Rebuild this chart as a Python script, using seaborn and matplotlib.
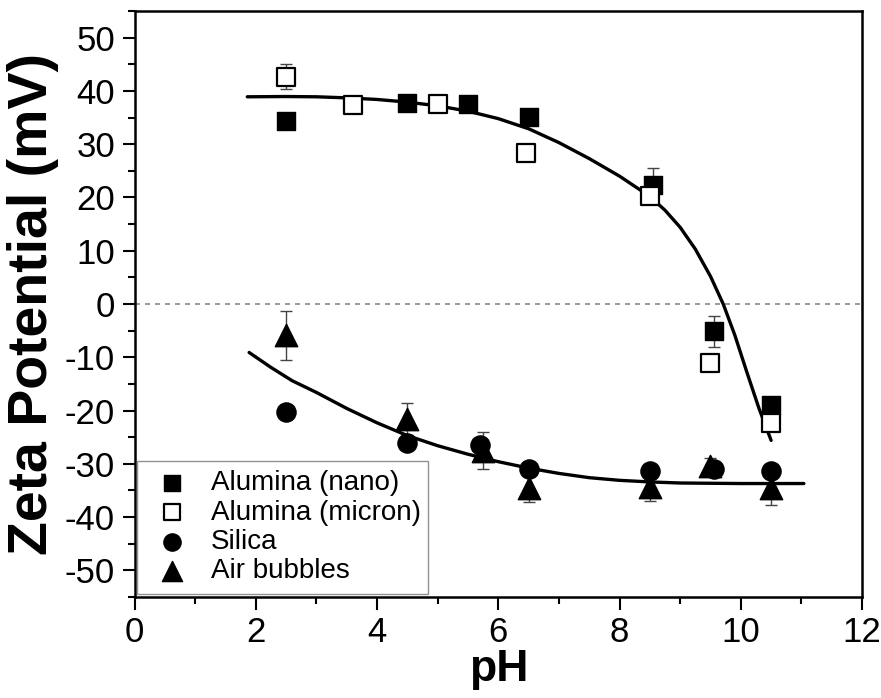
import seaborn as sns
import pandas as pd
import matplotlib.pyplot as plt
from matplotlib.ticker import MultipleLocator

# measured points
ph_nano = [2.5, 4.5, 5.5, 6.5, 8.55, 9.55, 10.5]
zeta_nano = [34.3, 37.8, 37.6, 35.1, 22.3, -5.1, -18.9]
err_nano = [0.5, 0.5, 0.5, 0.5, 3.3, 2.9, 0.5]

ph_micron = [2.5, 3.6, 5.0, 6.45, 8.5, 9.5, 10.5]
zeta_micron = [42.7, 37.3, 37.5, 28.4, 20.3, -11.1, -22.3]
err_micron = [2.3, 0.5, 0.8, 0.8, 0.5, 0.5, 1.3]

ph_silica = [2.5, 4.5, 5.7, 6.5, 8.5, 9.55, 10.5]
zeta_silica = [-20.3, -26.1, -26.5, -30.9, -31.3, -31.0, -31.3]

ph_air = [2.5, 4.5, 5.75, 6.5, 8.5, 9.5, 10.5]
zeta_air = [-5.9, -21.6, -27.5, -34.5, -34.3, -30.5, -34.6]
err_air = [4.6, 3.0, 3.4, 2.7, 2.6, 1.5, 3.1]

# fitted curves
fit_al_ph = [1.86, 2.5, 3.0, 3.5, 4.0, 4.5, 5.0, 5.5, 6.0, 6.5, 7.0, 7.5,
             8.0, 8.5, 8.75, 9.0, 9.25, 9.5, 9.71, 9.9, 10.1, 10.3, 10.5]
fit_al_zeta = [38.9, 38.95, 38.9, 38.7, 38.4, 37.9, 37.2, 36.2, 34.8, 32.9,
               30.3, 27.3, 24.0, 20.2, 17.6, 14.4, 10.3, 5.2, 0.0, -5.8,
               -12.8, -19.6, -25.6]
fit_si_ph = [1.89, 2.25, 2.6, 3.0, 3.5, 4.0, 4.5, 5.0, 5.5, 6.0, 6.5, 7.0,
             7.5, 8.0, 8.5, 9.0, 10.0, 11.04]
fit_si_zeta = [-9.1, -11.9, -14.4, -16.6, -19.6, -22.3, -24.7, -26.6, -28.2,
               -29.6, -30.8, -31.8, -32.6, -33.1, -33.4, -33.6, -33.7, -33.7]

sns.set_style('ticks')
plt.rcParams['font.family'] = ['Liberation Sans', 'DejaVu Sans']
plt.rcParams['axes.unicode_minus'] = False
plt.rcParams['text.color'] = 'black'
plt.rcParams['axes.labelcolor'] = 'black'

fig = plt.figure(figsize=(8.81, 6.98), dpi=100)
ax = fig.add_axes([0.1527, 0.1447, 0.8258, 0.8395])

ax.axhline(0, color='#888888', lw=1.2, ls=(0, (3, 3)), zorder=1)

fits = pd.DataFrame({'pH': fit_al_ph, 'zeta': fit_al_zeta})
sns.lineplot(data=fits, x='pH', y='zeta', color='black', lw=2.4,
             sort=False, estimator=None, ax=ax, zorder=2)
fits = pd.DataFrame({'pH': fit_si_ph, 'zeta': fit_si_zeta})
sns.lineplot(data=fits, x='pH', y='zeta', color='black', lw=2.4,
             sort=False, estimator=None, ax=ax, zorder=2)

# error bars
for xs, ys, es in [(ph_nano, zeta_nano, err_nano),
                   (ph_micron, zeta_micron, err_micron),
                   (ph_air, zeta_air, err_air)]:
    ax.errorbar(xs, ys, yerr=es, fmt='none', ecolor='#444444',
                elinewidth=1, capsize=4, capthick=1, zorder=3)

sns.scatterplot(x=ph_nano, y=zeta_nano, marker='s', s=150, color='black',
                edgecolor='black', linewidth=1, label='Alumina (nano)',
                ax=ax, zorder=4)
sns.scatterplot(x=ph_micron, y=zeta_micron, marker='s', s=150,
                facecolor='white', edgecolor='black', linewidth=1.6,
                label='Alumina (micron)', ax=ax, zorder=5)
sns.scatterplot(x=ph_silica, y=zeta_silica, marker='o', s=190,
                color='black', edgecolor='black', linewidth=1,
                label='Silica', ax=ax, zorder=4)
sns.scatterplot(x=ph_air, y=zeta_air, marker='^', s=260, color='black',
                edgecolor='black', linewidth=1, label='Air bubbles',
                ax=ax, zorder=4)

ax.set_xlim(0, 12)
ax.set_ylim(-55, 55)
ax.xaxis.set_major_locator(MultipleLocator(2))
ax.xaxis.set_minor_locator(MultipleLocator(1))
ax.yaxis.set_major_locator(MultipleLocator(10))
ax.yaxis.set_minor_locator(MultipleLocator(5))
ax.tick_params(which='major', direction='out', length=9, width=1.5,
               labelsize=25, color='black', labelcolor='black', pad=5)
ax.tick_params(which='minor', direction='out', length=5, width=1.5,
               color='black')
for sp in ax.spines.values():
    sp.set_linewidth(1.8)
    sp.set_color('black')

ax.set_xlabel('pH', fontsize=32, fontweight='bold', labelpad=0)
ax.set_ylabel('Zeta Potential (mV)', fontsize=40, fontweight='bold',
              labelpad=4)

leg = ax.legend(loc='lower left', bbox_to_anchor=(0.0034, 0.005, 0.40, 0.24),
                mode='expand', borderaxespad=0, fontsize=20,
                frameon=True, fancybox=False, edgecolor='#777777',
                markerscale=0.9, handlelength=1.8, handletextpad=0.5,
                labelspacing=0.12, borderpad=0.35)
leg.get_frame().set_linewidth(1.0)

fig.savefig('out.png', dpi=100)
